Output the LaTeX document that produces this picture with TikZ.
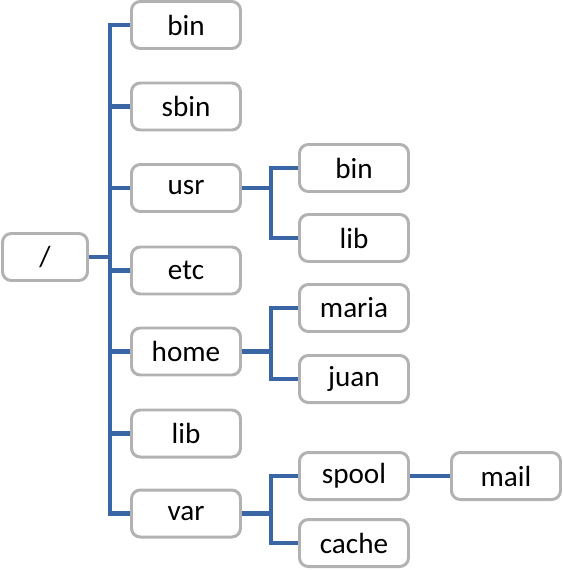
\documentclass[tikz,border=0pt]{standalone}
\usepackage{fontspec}
\setmainfont{Carlito}
\usepackage{tikz}
\usetikzlibrary{calc,positioning}
\definecolor{linkblue}{HTML}{3A66A6}
\definecolor{boxgray}{HTML}{B2B2B2}
\tikzset{
  folder/.style={draw=boxgray,line width=1.7pt,rounded corners=5pt,fill=white,minimum width=#1,minimum height=0.94cm,inner sep=0pt},
  folder/.default=2.18cm,
  link/.style={linkblue,line width=2.3pt},
}

\begin{document}
\begin{tikzpicture}[font=\fontsize{16.6}{19}\selectfont]
\useasboundingbox (0,0) rectangle (11.26,-11.40);
\node[folder=1.7cm] (root) at (0.90,-5.14) {/};
\node[folder] (bin)  at (3.72,-0.50)  {bin};
\node[folder] (sbin) at (3.72,-2.13)  {sbin};
\node[folder] (usr)  at (3.72,-3.76)  {usr};
\node[folder] (etc)  at (3.72,-5.41)  {etc};
\node[folder] (home) at (3.72,-7.03)  {home};
\node[folder] (lib)  at (3.72,-8.67)  {lib};
\node[folder] (var)  at (3.72,-10.27) {var};
\node[folder] (ubin)  at (7.08,-3.36)  {bin};
\node[folder] (ulib)  at (7.08,-4.76)  {lib};
\node[folder] (maria) at (7.08,-6.16)  {maria};
\node[folder] (juan)  at (7.08,-7.58)  {juan};
\node[folder] (spool) at (7.08,-9.52)  {spool};
\node[folder] (cache) at (7.08,-10.86) {cache};
\node[folder] (mail)  at (10.12,-9.52) {mail};
% main trunk
\draw[link] (root.east) -- ++(0.42,0) coordinate (t);
\draw[link] (bin.west) -| (t) |- (var.west);
\foreach \n in {sbin,usr,etc,home,lib} \draw[link] (\n.west) -- (\n.west -| t);
% sub trees
\draw[link] (usr.east) -- ++(0.58,0) coordinate (u);
\draw[link] (ubin.west) -| (u) |- (ulib.west);
\draw[link] (home.east) -- ++(0.58,0) coordinate (h);
\draw[link] (maria.west) -| (h) |- (juan.west);
\draw[link] (var.east) -- ++(0.58,0) coordinate (v);
\draw[link] (spool.west) -| (v) |- (cache.west);
\draw[link] (spool) -- (mail);
\end{tikzpicture}
\end{document}
